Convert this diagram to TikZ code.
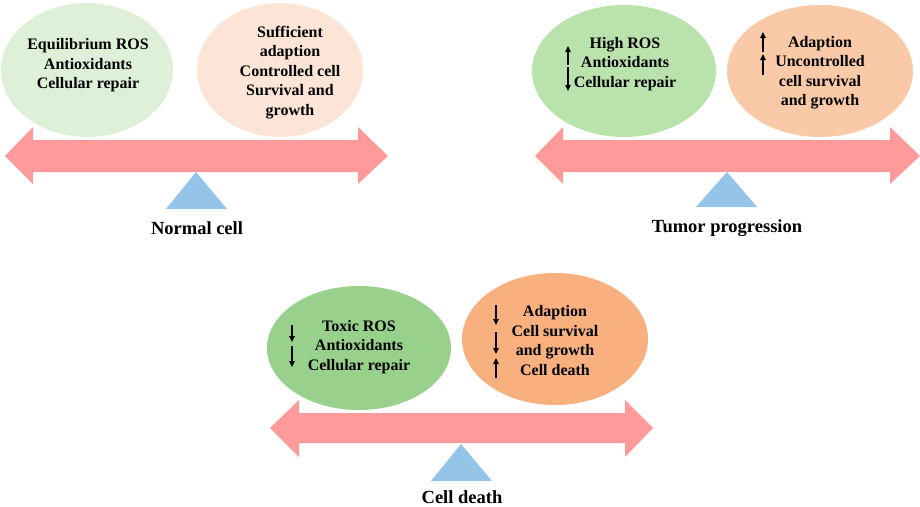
\documentclass[tikz,border=0pt]{standalone}
\usepackage{fontspec}
\setmainfont{Liberation Serif}
\usetikzlibrary{shapes.geometric,arrows.meta}

\definecolor{greenA}{HTML}{DEF0D7}
\definecolor{peachA}{HTML}{FCE4D6}
\definecolor{greenB}{HTML}{BAE2AD}
\definecolor{peachB}{HTML}{FAC9A7}
\definecolor{greenC}{HTML}{98D18B}
\definecolor{peachC}{HTML}{F7B07E}
\definecolor{beamred}{HTML}{FF9A9A}
\definecolor{pivotblue}{HTML}{94C5E8}

\tikzset{
  bubble/.style={ellipse, inner sep=0pt},
  bubbletext/.style={align=center, font=\fontsize{16}{19.5}\selectfont\bfseries},
  caption/.style={font=\fontsize{18.5}{22}\selectfont\bfseries},
  updown/.style={-{Triangle[length=6pt,width=5.5pt]}, line width=1.6pt}
}

\begin{document}
\begin{tikzpicture}[x=1pt,y=-1pt]
        \useasboundingbox (0,0) rectangle (920,506);

        % Normal cell
        \node[bubble, fill=greenA, minimum width=172pt, minimum height=134pt] (ros1) at (87,70) {};
        \node[bubble, fill=peachA, minimum width=166pt, minimum height=134pt] (fate1) at (280,70) {};
        \node[bubbletext] (ros1txt) at (88,65.5) {Equilibrium ROS\\Antioxidants\\Cellular repair};
        \node[bubbletext] (fate1txt) at (290,72.5) {Sufficient\\adaption\\Controlled cell\\Survival and\\growth};
        \fill[beamred] (5,156) -- (33,127) -- (33,140) -- (358,140) -- (358,127) -- (388,156)
            -- (358,184) -- (358,172) -- (33,172) -- (33,184) -- cycle;
        \fill[pivotblue] (196,172) -- (227,209) -- (166,209) -- cycle;
        \node[caption] (normal) at (197,228) {Normal cell};

        % Tumor progression
        \node[bubble, fill=greenB, minimum width=184pt, minimum height=132pt] (ros2) at (624,71) {};
        \node[bubble, fill=peachB, minimum width=186pt, minimum height=132pt] (fate2) at (820,71) {};
        \node[bubbletext] (ros2txt) at (625,64) {High ROS\\Antioxidants\\Cellular repair};
        \node[bubbletext] (fate2txt) at (820,72.5) {Adaption\\Uncontrolled\\cell survival\\and growth};
        \draw[updown] (568,65) -- (568,46);
        \draw[updown] (568,67) -- (568,91);
        \draw[updown] (763,52) -- (763,32);
        \draw[updown] (763,75) -- (763,54);
        \fill[beamred] (535,156) -- (563,127) -- (563,140) -- (890,140) -- (890,127) -- (920,156)
            -- (890,184) -- (890,172) -- (563,172) -- (563,184) -- cycle;
        \fill[pivotblue] (727,172) -- (757,207) -- (696,207) -- cycle;
        \node[caption] (tumor) at (727,228) {Tumor progression};

        % Cell death
        \node[bubble, fill=greenC, minimum width=184pt, minimum height=124pt] (ros3) at (359,348) {};
        \node[bubble, fill=peachC, minimum width=186pt, minimum height=132pt] (fate3) at (555,339) {};
        \node[bubbletext] (ros3txt) at (359,347) {Toxic ROS\\Antioxidants\\Cellular repair};
        \node[bubbletext] (fate3txt) at (555,340.5) {Adaption\\Cell survival\\and growth\\Cell death};
        \draw[updown] (292,325) -- (292,342);
        \draw[updown] (292,346) -- (292,367);
        \draw[updown] (496,305) -- (496,325);
        \draw[updown] (496,332) -- (496,354);
        \draw[updown] (496,378) -- (496,358);
        \fill[beamred] (270,428) -- (299,400) -- (299,413) -- (625,413) -- (625,400) -- (653,428)
            -- (625,457) -- (625,443) -- (299,443) -- (299,457) -- cycle;
        \fill[pivotblue] (461,444) -- (492,481) -- (431,481) -- cycle;
        \node[caption] (death) at (462,497) {Cell death};
        % Grid
        %\draw[help lines] (0,0) grid[step=50] (920,506);
\end{tikzpicture}
\end{document}
